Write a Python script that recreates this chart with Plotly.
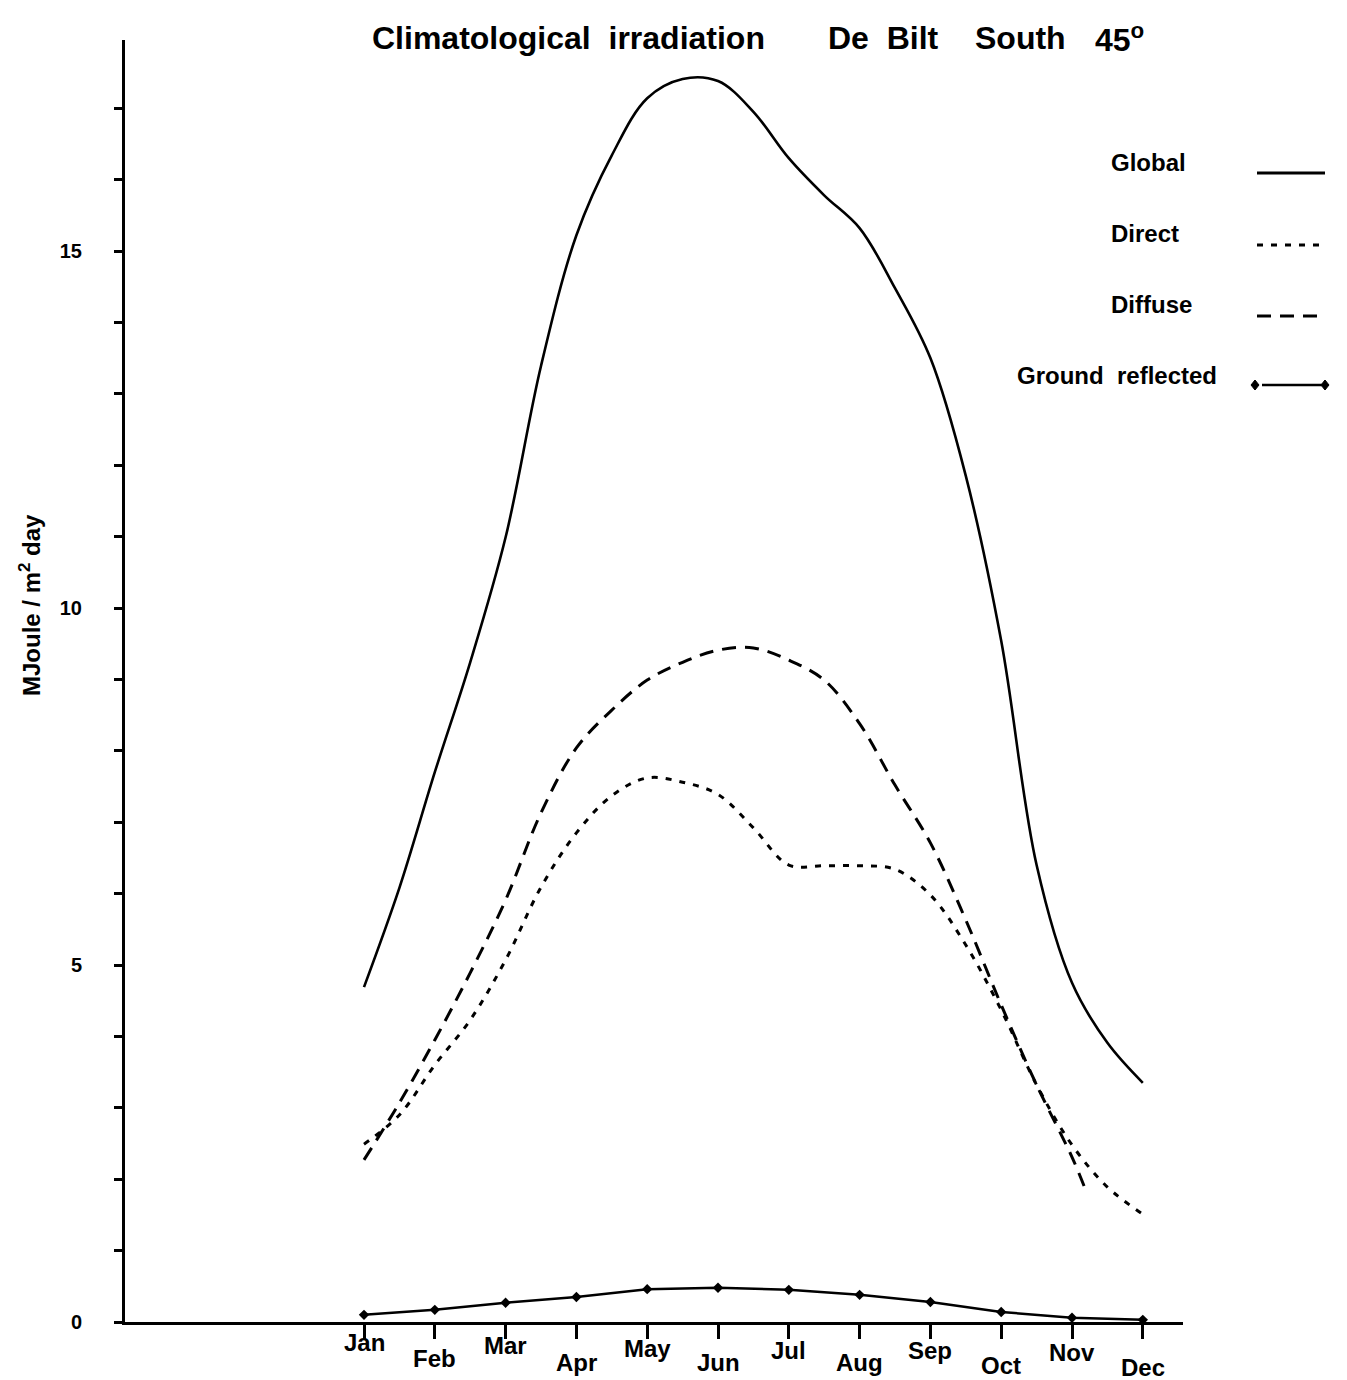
import plotly.graph_objects as go

# ---------------- data ----------------
months = ["Jan", "Feb", "Mar", "Apr", "May", "Jun", "Jul", "Aug", "Sep", "Oct", "Nov", "Dec"]
month_pos = [1, 2, 3, 4, 5, 6, 7, 8, 9, 10, 11, 12]

# half-month sampling positions (1 = Jan ... 12 = Dec)
x_half = [1, 1.5, 2, 2.5, 3, 3.5, 4, 4.5, 5, 5.5, 6, 6.5, 7, 7.5, 8, 8.5,
          9, 9.5, 10, 10.5, 11, 11.5, 12]

global_vals = [4.69, 6.08, 7.70, 9.24, 10.99, 13.39, 15.22, 16.34, 17.14, 17.41,
               17.38, 16.95, 16.30, 15.78, 15.32, 14.48, 13.50, 11.85, 9.54, 6.40,
               4.75, 3.91, 3.35]

direct_vals = [2.49, 2.90, 3.60, 4.23, 5.07, 6.09, 6.85, 7.37, 7.62, 7.56,
               7.39, 6.92, 6.40, 6.39, 6.39, 6.34, 5.98, 5.28, 4.37, 3.32,
               2.48, 1.89, 1.51]

diffuse_x = [1, 1.5, 2, 2.5, 3, 3.5, 4, 4.5, 5, 5.5, 6, 6.5, 7, 7.5, 8, 8.5,
             9, 9.5, 10, 10.5, 11, 11.18]
diffuse_vals = [2.27, 3.07, 3.95, 4.89, 5.91, 7.13, 8.04, 8.57, 8.99, 9.24,
                9.41, 9.44, 9.27, 8.99, 8.38, 7.52, 6.71, 5.63, 4.44, 3.32,
                2.31, 1.88]

ground_vals = [0.10, 0.17, 0.27, 0.35, 0.46, 0.48, 0.45, 0.38, 0.28, 0.14, 0.06, 0.03]

y_major_vals = [0, 5, 10, 15]
y_major_text = ["0", "5", "10", "15"]

title_parts = ["Climatological\u00a0 irradiation", "De\u00a0 Bilt", "South", "45<sup>o</sup>"]
ytitle_text = "MJoule\u00a0/\u00a0m<sup>2</sup>\u00a0day"
legend_names = ["Global", "Direct", "Diffuse", "Ground\u00a0\u00a0reflected"]

# ---------------- figure ----------------
FONT = "Liberation Sans, Arial, Helvetica, sans-serif"
W, H = 1347, 1380
L, R, T, B = 125, 164, 40, 58
PW, PH = W - L - R, H - T - B

fig = go.Figure()

fig.add_trace(go.Scatter(x=x_half, y=global_vals, mode="lines",
                         line=dict(color="black", width=2.6, shape="spline", smoothing=1.0),
                         name="Global", hoverinfo="skip"))
fig.add_trace(go.Scatter(x=x_half, y=direct_vals, mode="lines",
                         line=dict(color="black", width=3, dash="6px,8px",
                                   shape="spline", smoothing=1.0),
                         name="Direct", hoverinfo="skip"))
fig.add_trace(go.Scatter(x=diffuse_x, y=diffuse_vals, mode="lines",
                         line=dict(color="black", width=3, dash="14px,9px",
                                   shape="spline", smoothing=1.0),
                         name="Diffuse", hoverinfo="skip"))
fig.add_trace(go.Scatter(x=month_pos, y=ground_vals, mode="lines+markers",
                         line=dict(color="black", width=2.5),
                         marker=dict(symbol="diamond", size=8, color="black"),
                         name="Ground reflected", hoverinfo="skip", cliponaxis=False))

def px_x(p):
    return (p - L) / PW

def px_y(p):
    return (H - B - p) / PH

annotations = []
# title (word groups positioned as in the reference)
for part, left in zip(title_parts, [370, 826, 973, 1093]):
    annotations.append(dict(text="<b>" + part + "</b>", xref="paper", yref="paper",
                             x=px_x(left), y=px_y(38), xanchor="left", yanchor="middle",
                             showarrow=False, font=dict(family=FONT, size=32, color="black")))
# y-axis title
annotations.append(dict(text="<b>" + ytitle_text + "</b>", xref="paper", yref="paper",
                         x=px_x(30), y=px_y(605), xanchor="center", yanchor="middle",
                         textangle=-90, showarrow=False,
                         font=dict(family=FONT, size=24, color="black")))
# month labels (staggered)
label_y = [1342, 1358, 1345, 1362, 1348, 1362, 1350, 1362, 1350, 1365, 1352, 1367]
for m, pos, ly in zip(months, month_pos, label_y):
    annotations.append(dict(text="<b>" + m + "</b>", xref="x", yref="paper",
                             x=pos, y=px_y(ly), xanchor="center", yanchor="middle",
                             showarrow=False, font=dict(family=FONT, size=24, color="black")))
# legend texts
leg_y = [162, 234, 305, 376]
for i, (name, ly) in enumerate(zip(legend_names, leg_y)):
    if i < 3:
        annotations.append(dict(text="<b>" + name + "</b>", xref="paper", yref="paper",
                                 x=px_x(1109), y=px_y(ly), xanchor="left", yanchor="middle",
                                 showarrow=False, font=dict(family=FONT, size=24, color="black")))
    else:
        annotations.append(dict(text="<b>" + name + "</b>", xref="paper", yref="paper",
                                 x=px_x(1219), y=px_y(ly), xanchor="right", yanchor="middle",
                                 showarrow=False, font=dict(family=FONT, size=24, color="black")))

shapes = []
samples = [(173, "solid"), (245, "6px,8px"), (316, "14px,9px")]
for sy, dash in samples:
    shapes.append(dict(type="line", xref="paper", yref="paper",
                       x0=px_x(1257), x1=px_x(1325), y0=px_y(sy), y1=px_y(sy),
                       line=dict(color="black", width=3, dash=dash)))
gy = 385
shapes.append(dict(type="line", xref="paper", yref="paper",
                   x0=px_x(1262), x1=px_x(1322), y0=px_y(gy), y1=px_y(gy),
                   line=dict(color="black", width=2.5)))
for cx in (1255, 1325):
    dx, dy = 4 / PW, 5 / PH
    x0, y0 = px_x(cx), px_y(gy)
    shapes.append(dict(type="path", xref="paper", yref="paper",
                       path=f"M {x0-dx} {y0} L {x0} {y0+dy} L {x0+dx} {y0} L {x0} {y0-dy} Z",
                       fillcolor="black", line=dict(color="black", width=1)))

fig.update_layout(
    width=W, height=H,
    margin=dict(l=L, r=R, t=T, b=B, pad=0),
    plot_bgcolor="white", paper_bgcolor="white",
    showlegend=False,
    annotations=annotations,
    shapes=shapes,
    xaxis=dict(range=[1 - (364 - L) / 70.8, 1 + (1183 - 364) / 70.8],
               showgrid=False, zeroline=False, showline=True, linecolor="black", linewidth=3,
               tickvals=month_pos, ticks="outside", ticklen=14,
               tickwidth=2.5, tickcolor="black", showticklabels=False, fixedrange=True),
    yaxis=dict(range=[0, (H - B - T) / 71.4],
               showgrid=False, zeroline=False, showline=True, linecolor="black", linewidth=3,
               tickvals=y_major_vals, ticktext=y_major_text, ticks="outside", ticklen=8,
               tickwidth=3, tickcolor="black", ticklabelstandoff=28,
               tickfont=dict(family=FONT, size=20, color="black", weight="bold"),
               minor=dict(dtick=1, tick0=0, ticks="outside", ticklen=8, tickwidth=3,
                          tickcolor="black", showgrid=False),
               fixedrange=True),
)

fig.write_html("out.html")
